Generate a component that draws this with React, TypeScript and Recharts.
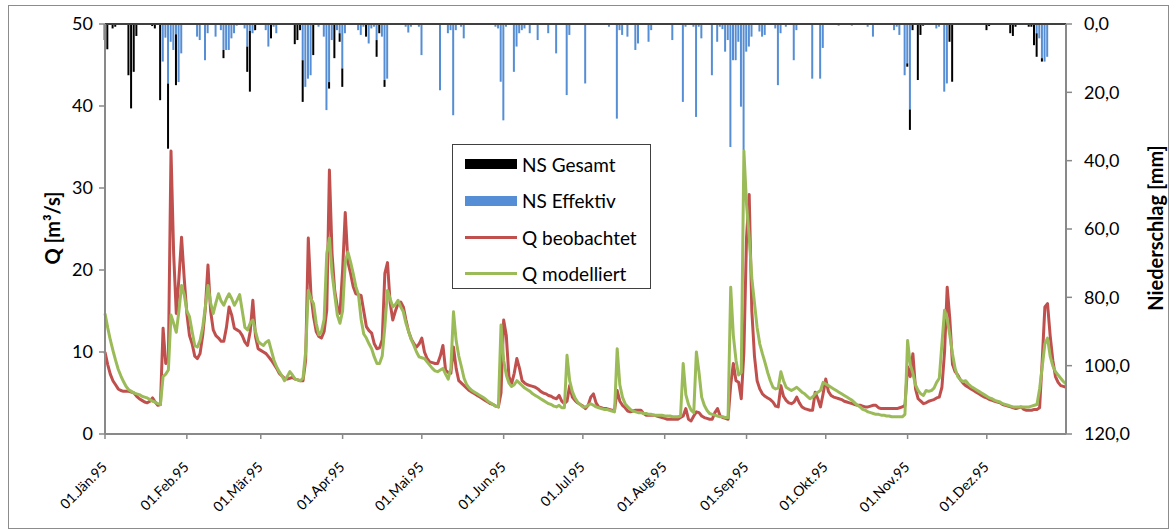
import React from 'react';
import { ComposedChart, Bar, Line, XAxis, YAxis, ReferenceLine } from 'recharts';

// Abfluss und Niederschlag 1995, Tageswerte

const MONTHS = ['Jän', 'Feb', 'Mär', 'Apr', 'Mai', 'Jun', 'Jul', 'Aug', 'Sep', 'Okt', 'Nov', 'Dez'];
const MONTH_DAYS = [31, 28, 31, 30, 31, 30, 31, 31, 30, 31, 30, 31];

// Q beobachtet [m³/s]
const qObs = [
  // Jan
  10, 8.5, 7.3, 6.5, 6.0, 5.5, 5.3, 5.2, 5.2, 5.2, 5.1, 5.0, 4.6, 4.3, 4.1, 3.9, 3.8, 4.0, 4.4, 3.9, 3.5, 3.6, 12.9, 8.6, 9.0, 34.5, 22, 14.7, 19, 24, 19,
  // Feb
  14.7, 12, 11, 9.5, 9.2, 9.8, 12, 15.3, 20.6, 15, 12.7, 12, 11.7, 11.3, 11.3, 13, 15.5, 14.5, 12.9, 12.7, 12.5, 12, 11.2, 10.8, 12.5, 16.3, 11.9, 10.4,
  // Mär
  10.2, 10, 9.8, 9.4, 9.0, 8.5, 8.0, 7.4, 7.1, 6.8, 6.7, 6.8, 6.9, 6.7, 6.6, 6.5, 6.5, 9.0, 23.9, 17, 14.3, 12.5, 11.9, 11.7, 12.5, 15.1, 32.2, 22, 17.5, 15.5, 14.7,
  // Apr
  20, 27, 21, 19.6, 18, 17.1, 17, 16.9, 15, 13.1, 12.6, 12.3, 11, 10.4, 10.5, 11.5, 19.6, 20.9, 16, 13.9, 15, 15.9, 16.1, 15.5, 13.9, 12.5, 11.6, 11, 10.6, 11,
  // Mai
  11.7, 10, 9.2, 8.8, 8.7, 8.6, 8.6, 9.5, 10.8, 7.8, 7.5, 7.4, 10.6, 8.0, 6.5, 6.2, 5.9, 5.6, 5.3, 5.1, 4.9, 4.7, 4.5, 4.3, 4.1, 3.9, 3.7, 3.6, 3.4, 3.3, 5.0,
  // Jun
  13.9, 12, 7.0, 6.1, 7.4, 9.2, 8.0, 6.5, 6.2, 6.0, 5.9, 5.8, 5.7, 5.5, 5.2, 5.0, 4.9, 4.7, 4.6, 4.4, 4.3, 4.7, 4.0, 3.7, 4.0, 5.9, 4.5, 4.1, 3.8, 3.6,
  // Jul
  3.4, 3.1, 3.5, 4.5, 4.9, 3.8, 3.3, 3.2, 3.1, 3.1, 3.0, 2.9, 2.9, 5.3, 4.0, 3.5, 3.2, 2.8, 2.7, 2.8, 2.9, 2.9, 2.9, 2.5, 2.3, 2.3, 2.3, 2.3, 2.2, 2.1, 2.0,
  // Aug
  1.9, 1.8, 1.8, 1.8, 1.8, 1.8, 2.0, 2.2, 3.1, 1.8, 1.6, 2.2, 2.7, 2.6, 2.2, 2.0, 1.9, 1.8, 1.8, 2.6, 3.1, 2.2, 2.0, 1.9, 1.8, 6.0, 8.6, 6.5, 6.3, 4.3, 10,
  // Sep
  24, 29.2, 15, 9.5, 6.5, 5.5, 4.9, 4.6, 4.4, 4.2, 3.9, 3.4, 3.3, 5.9, 4.6, 4.1, 3.8, 3.7, 3.9, 4.5, 3.8, 3.3, 3.1, 3.0, 2.9, 2.9, 5.1, 4.3, 3.3, 4.9,
  // Okt
  6.7, 5.2, 4.7, 4.5, 4.4, 4.3, 4.2, 4.0, 3.9, 3.8, 3.7, 3.6, 3.5, 3.5, 3.4, 3.3, 3.3, 3.4, 3.5, 3.5, 3.2, 3.1, 3.1, 3.1, 3.1, 3.1, 3.1, 3.1, 3.2, 3.3, 3.5,
  // Nov
  8.2, 7.0, 9.8, 5.5, 4.3, 4.0, 3.7, 3.8, 4.0, 4.1, 4.2, 4.4, 4.5, 5.7, 10, 17.9, 14, 8.5, 7.6, 7.2, 6.6, 6.2, 5.9, 5.7, 5.5, 5.3, 5.1, 4.9, 4.7, 4.5,
  // Dez
  4.4, 4.2, 4.1, 4.0, 3.9, 3.8, 3.6, 3.5, 3.4, 3.3, 3.2, 3.1, 3.2, 3.3, 3.0, 2.9, 2.9, 2.9, 3.0, 3.0, 3.2, 9.0, 15.5, 15.9, 12, 9.0, 7.0, 6.3, 5.9, 5.8, 5.7,
];

// Q modelliert [m³/s]
const qMod = [
  // Jan
  14.7, 13, 11.5, 10.2, 9.0, 7.9, 7.1, 6.4, 5.8, 5.4, 5.2, 5.0, 4.9, 4.8, 4.6, 4.5, 4.4, 4.2, 4.0, 3.9, 3.7, 3.6, 7.0, 7.3, 7.8, 14.5, 13.5, 12.4, 15, 18.1, 17,
  // Feb
  15, 14.3, 12.5, 10.8, 10.6, 11.4, 13, 15.5, 18.1, 16, 14.7, 16, 17.1, 16.2, 15.7, 16.5, 17.1, 16.5, 15.7, 16.3, 17, 15, 13, 12.7, 13.5, 13.9, 12.5, 11.3,
  // Mär
  11, 10.8, 11.2, 11.4, 10.2, 9.0, 8.2, 7.6, 7.1, 6.5, 7.0, 7.6, 7.2, 6.7, 6.6, 6.5, 6.8, 10, 17.5, 16.5, 15.9, 13.5, 12.1, 12.5, 14, 22, 23.9, 19.6, 17, 14.5, 13.5,
  // Apr
  15, 21, 22.2, 21, 19.6, 18, 17, 14, 12.2, 11.7, 11, 10.4, 9.4, 8.6, 8.6, 9.5, 13.1, 17.5, 16.5, 15.5, 15.8, 16.3, 15.5, 14.9, 13.5, 12.5, 11.5, 10.8, 10, 9.4,
  // Mai
  9.3, 9.2, 8.8, 8.4, 8.0, 7.7, 7.6, 7.8, 8.0, 7.3, 6.7, 8.0, 14.9, 11.4, 9.5, 8.2, 6.8, 6.0, 5.6, 5.3, 5.1, 4.9, 4.7, 4.5, 4.3, 4.0, 3.8, 3.6, 3.4, 3.3, 13.3,
  // Jun
  9.0, 7.2, 6.2, 5.8, 6.0, 6.5, 6.2, 5.9, 5.6, 5.4, 5.2, 4.9, 4.7, 4.5, 4.3, 4.1, 3.9, 3.7, 3.6, 3.4, 3.3, 3.5, 3.2, 3.2, 9.6, 6.5, 5.2, 4.4, 3.9, 3.6,
  // Jul
  3.3, 3.3, 3.5, 3.7, 3.5, 3.3, 3.2, 3.1, 3.0, 3.0, 2.9, 2.8, 2.7, 10.4, 6.0, 4.5, 3.7, 3.3, 3.0, 2.8, 2.7, 2.6, 2.6, 2.5, 2.5, 2.4, 2.4, 2.3, 2.3, 2.3, 2.3,
  // Aug
  2.2, 2.2, 2.2, 2.1, 2.1, 2.1, 2.2, 8.6, 4.8, 3.6, 2.9, 2.6, 10, 7.5, 4.5, 3.5, 2.9, 2.5, 2.4, 2.3, 2.2, 2.1, 2.1, 2.0, 2.0, 17.9, 12, 9.0, 7.2, 7.5, 34.5,
  // Sep
  28, 24, 19, 16, 13, 11, 9.8, 8.7, 7.5, 6.5, 5.7, 5.5, 5.6, 7.6, 6.5, 5.7, 5.5, 5.3, 5.5, 5.7, 5.4, 5.1, 4.9, 4.6, 4.3, 4.5, 4.9, 5.1, 5.3, 6.3,
  // Okt
  6.1, 5.9, 5.7, 5.5, 5.3, 5.1, 4.9, 4.7, 4.5, 4.3, 4.1, 3.8, 3.5, 3.3, 3.0, 2.9, 2.7, 2.6, 2.5, 2.4, 2.4, 2.3, 2.3, 2.2, 2.2, 2.1, 2.1, 2.1, 2.1, 2.1, 2.4,
  // Nov
  11.4, 8.5, 7.4, 6.0, 5.3, 4.9, 4.7, 5.3, 5.2, 5.3, 5.6, 6.3, 6.8, 11, 15.1, 14, 12, 9.8, 8.0, 7.0, 6.6, 6.4, 6.5, 6.1, 5.8, 5.6, 5.4, 5.2, 5.0, 4.8,
  // Dez
  4.6, 4.4, 4.3, 4.1, 4.0, 3.9, 3.7, 3.6, 3.5, 3.4, 3.3, 3.3, 3.3, 3.3, 3.3, 3.3, 3.3, 3.4, 3.5, 3.6, 5.5, 8.2, 11, 11.7, 9.5, 8.3, 7.6, 7.2, 6.8, 6.4, 6.1,
];

// Niederschlagstage (Tag des Jahres, 0 = 01.Jän), Gesamt und Effektiv [mm]
const rainDay = [
  0, 1, 3, 4, 9, 10, 11, 12, 18, 19, 21, 22, 23, 24, 25, 26, 27, 28, 29, 35, 36, 38, 39, 42, 44, 45, 46, 47, 48, 49,
  50, 53, 54, 55, 56, 57, 61, 62, 63, 64, 65, 72, 73, 74, 75, 76, 77, 78, 79, 81, 83, 84, 85, 86, 87, 88, 89, 90, 91, 96,
  97, 98, 99, 100, 101, 102, 103, 104, 105, 106, 107, 114, 115, 116, 119, 120, 127, 130, 131, 132, 133, 135, 136, 148, 149, 150, 151, 152, 155, 156,
  157, 158, 159, 161, 164, 168, 171, 175, 176, 182, 191, 194, 195, 196, 198, 201, 202, 206, 207, 215, 219, 220, 223, 224, 225, 226, 230, 232, 233, 234,
  235, 236, 237, 238, 239, 240, 241, 242, 243, 244, 245, 248, 249, 250, 254, 255, 256, 258, 261, 262, 268, 271, 272, 278, 283, 289, 291, 299, 300, 301,
  303, 304, 305, 306, 308, 309, 310, 315, 316, 318, 319, 320, 321, 334, 335, 343, 344, 345, 350, 351, 352, 353, 354, 355, 356, 357,
];
const rainTotal = [
  4.7, 7.4, 1.3, 0.8, 15, 24.7, 14, 3.5, 0.6, 1.3, 22.3, 11, 4, 36.5, 5.2, 7.6, 17.9, 17, 8.6, 3.7, 4.7, 10.6, 2.7, 3.7, 1.8, 10, 7.6, 7.6, 4.2, 2.7,
  0.5, 1.3, 14, 19.8, 2.7, 1.8, 1.8, 6.6, 4.2, 0.8, 2.7, 5.9, 4.7, 1.8, 22.8, 18.4, 16, 15, 9.1, 0.8, 3.7, 25.2, 18.9, 4.7, 10, 1.8, 5.2, 18.4, 2.7, 1.8,
  3.2, 0.8, 3.7, 5.7, 1.3, 0.8, 9.6, 2.7, 3.7, 18.4, 16, 0.8, 2.5, 0.8, 0.8, 9.1, 19.4, 2.7, 1.8, 26.7, 1.8, 0.8, 4.2, 0.8, 1.3, 16.9, 28.2, 0.8, 14, 6.6,
  2.7, 1.8, 1.3, 2.7, 4.7, 2.7, 8.6, 20.8, 3.2, 17.4, 0.8, 27.7, 1.8, 3.2, 3.7, 7.6, 5.7, 5.2, 1.8, 4.7, 22.8, 0.8, 0.8, 27.2, 0.8, 4.2, 15, 5.2, 0.8, 1.5,
  8.1, 4.7, 36, 10.6, 10.6, 5.2, 24.2, 37, 8.1, 6.6, 3.7, 2.2, 3.7, 3.2, 1.3, 17.9, 2.7, 0.8, 10.6, 1.8, 16, 16, 7, 0.5, 0.5, 0.8, 3.7, 1.8, 0.8, 3.2,
  15, 12.5, 31, 1.8, 16.4, 3.2, 0.5, 1.3, 0.8, 19.8, 17.4, 5.2, 16.9, 1.8, 0.6, 2.7, 3.5, 0.8, 0.8, 0.8, 6.2, 9.6, 4.2, 11, 11, 9.6,
];
const rainEff = [
  0, 0, 0, 0, 0, 0, 0, 0, 0, 0, 0, 11, 4, 17.4, 5.2, 7.6, 3, 17, 8.6, 3.7, 4.7, 10.6, 2.7, 3.7, 1.8, 7.6, 7.6, 7.6, 4.2, 2.7,
  0.5, 1.3, 6.6, 2, 2.7, 0, 1.8, 6.6, 0, 0.8, 2.7, 0, 0, 0, 10.6, 18.4, 16, 15, 0, 0.8, 3.7, 25.2, 17, 4.7, 0, 1.8, 2.7, 13, 2.7, 1.8,
  3.2, 0.8, 0, 5.7, 1.3, 0.8, 4.7, 0, 3.7, 16.4, 16, 0.8, 2.5, 0.8, 0.8, 9.1, 19.4, 2.7, 1.8, 26.7, 1.8, 0.8, 4.2, 0.8, 1.3, 16.9, 28.2, 0.8, 14, 6.6,
  2.7, 1.8, 1.3, 2.7, 4.7, 2.7, 8.6, 20.8, 3.2, 17.4, 0.8, 27.7, 1.8, 3.2, 3.7, 7.6, 5.7, 5.2, 1.8, 4.7, 22.8, 0.8, 0.8, 27.2, 0.8, 4.2, 15, 5.2, 0.8, 1.5,
  8.1, 4.7, 36, 10.6, 10.6, 5.2, 24.2, 37, 8.1, 6.6, 3.7, 2.2, 3.7, 3.2, 1.3, 17.9, 2.7, 0.8, 10.6, 1.8, 16, 16, 7, 0.5, 0.5, 0.8, 3.7, 1.8, 0.8, 3.2,
  15, 11.5, 25, 0, 0, 0, 0, 1.3, 0.8, 19.8, 17.4, 0, 0, 0, 0, 0, 0, 0, 0, 0, 0, 2.7, 4.2, 10, 11, 9.6,
];

const qTicks = [0, 10, 20, 30, 40, 50];
const nsTicks = [0, 20, 40, 60, 80, 100, 120];

const FONT = 'Lato, "Open Sans", sans-serif';
const AXIS_GREY = '#898989';

// first day of each month as day-of-year index
const monthStarts: number[] = [];
MONTH_DAYS.reduce((acc, n) => {
  monthStarts.push(acc);
  return acc + n;
}, 0);

const data = qObs.map((q, day) => {
  const i = rainDay.indexOf(day);
  const total = i >= 0 ? rainTotal[i] : 0;
  const eff = i >= 0 ? rainEff[i] : 0;
  return { day, qObs: q, qMod: qMod[day], nsEff: eff, nsRest: total - eff };
});

const DateTick = (props: any) => {
  const { x, payload } = props;
  const m = monthStarts.indexOf(payload.value);
  const ax = x + 3;
  const ay = 468;
  return (
    <text
      x={ax}
      y={ay}
      transform={`rotate(-45 ${ax} ${ay})`}
      textAnchor="end"
      fontSize={14}
      fontFamily={FONT}
      fill="#000"
    >
      {`01.${MONTHS[m]}.95`}
    </text>
  );
};

const titleStyle = {
  fontSize: 20,
  fontWeight: 'bold' as const,
  fontFamily: FONT,
  fill: '#000',
};

const legendItems = [
  { name: 'NS Gesamt', color: '#000000', kind: 'bar' },
  { name: 'NS Effektiv', color: '#558ED5', kind: 'bar' },
  { name: 'Q beobachtet', color: '#C0504D', kind: 'line' },
  { name: 'Q modelliert', color: '#9BBB59', kind: 'line' },
];

const LegendBox = () => (
  <div
    style={{
      position: 'absolute',
      left: 452,
      top: 144,
      width: 199,
      height: 145,
      border: '1.5px solid #404040',
      background: '#fff',
      boxSizing: 'border-box',
      fontFamily: FONT,
      fontSize: 19,
    }}
  >
    {legendItems.map((it, i) => (
      <div
        key={it.name}
        style={{ position: 'absolute', left: 12, top: 4 + i * 36.5, height: 30, display: 'flex', alignItems: 'center' }}
      >
        <div
          style={{
            width: 52,
            height: it.kind === 'bar' ? 10 : 3,
            background: it.color,
            marginRight: 5,
          }}
        />
        <span style={{ color: '#000', whiteSpace: 'nowrap' }}>{it.name}</span>
      </div>
    ))}
  </div>
);

export default function App() {
  return (
    <div style={{ position: 'absolute', left: 0, top: 0, width: 1170, height: 530, background: '#fff' }}>
      <div
        style={{
          position: 'absolute',
          left: 8,
          top: 5,
          width: 1161,
          height: 524,
          border: '1px solid #8c8c8c',
          boxSizing: 'border-box',
        }}
      />
      <ComposedChart
        width={1170}
        height={530}
        data={data}
        margin={{ top: 24, right: 0, bottom: 0, left: 0 }}
        style={{ position: 'absolute', left: 0, top: 0 }}
      >
        <XAxis
          dataKey="day"
          type="number"
          domain={[0, 364]}
          ticks={monthStarts}
          interval={0}
          height={96}
          tick={<DateTick />}
          tickSize={5}
          axisLine={{ stroke: AXIS_GREY, strokeWidth: 2 }}
          tickLine={{ stroke: AXIS_GREY, strokeWidth: 1.5 }}
        />
        <YAxis
          yAxisId="q"
          orientation="left"
          width={105}
          domain={[0, 50]}
          ticks={qTicks}
          interval={0}
          tickSize={6}
          tickMargin={6}
          axisLine={{ stroke: AXIS_GREY, strokeWidth: 2 }}
          tickLine={{ stroke: AXIS_GREY, strokeWidth: 1.5 }}
          tick={{ fontSize: 18, fontFamily: FONT, fill: '#000' }}
        />
        <YAxis
          yAxisId="ns"
          orientation="right"
          width={104}
          domain={[0, 120]}
          reversed
          ticks={nsTicks}
          interval={0}
          tickSize={6}
          tickMargin={12}
          tickFormatter={(v: number) => v.toFixed(1).replace('.', ',')}
          axisLine={{ stroke: AXIS_GREY, strokeWidth: 2 }}
          tickLine={{ stroke: AXIS_GREY, strokeWidth: 1.5 }}
          tick={{ fontSize: 18, fontFamily: FONT, fill: '#000', textAnchor: 'start' }}
        />
        <Bar yAxisId="ns" dataKey="nsEff" stackId="ns" fill="#558ED5" barSize={2} isAnimationActive={false} />
        <Bar yAxisId="ns" dataKey="nsRest" stackId="ns" fill="#000000" barSize={2} isAnimationActive={false} />
        <ReferenceLine yAxisId="q" y={50} stroke="#404040" strokeWidth={2} />
        <Line
          yAxisId="q"
          dataKey="qObs"
          stroke="#C0504D"
          strokeWidth={3}
          dot={false}
          activeDot={false}
          strokeLinejoin="round"
          isAnimationActive={false}
        />
        <Line
          yAxisId="q"
          dataKey="qMod"
          stroke="#9BBB59"
          strokeWidth={3}
          dot={false}
          activeDot={false}
          strokeLinejoin="round"
          isAnimationActive={false}
        />
      </ComposedChart>
      <svg
        width={1170}
        height={530}
        style={{ position: 'absolute', left: 0, top: 0, pointerEvents: 'none' }}
      >
        <text x={52} y={228} transform="rotate(-90 52 228)" textAnchor="middle" dominantBaseline="central" {...titleStyle}>
          Q [m³/s]
        </text>
        <text x={1155} y={228} transform="rotate(-90 1155 228)" textAnchor="middle" dominantBaseline="central" {...titleStyle}>
          Niederschlag [mm]
        </text>
      </svg>
      <LegendBox />
    </div>
  );
}
